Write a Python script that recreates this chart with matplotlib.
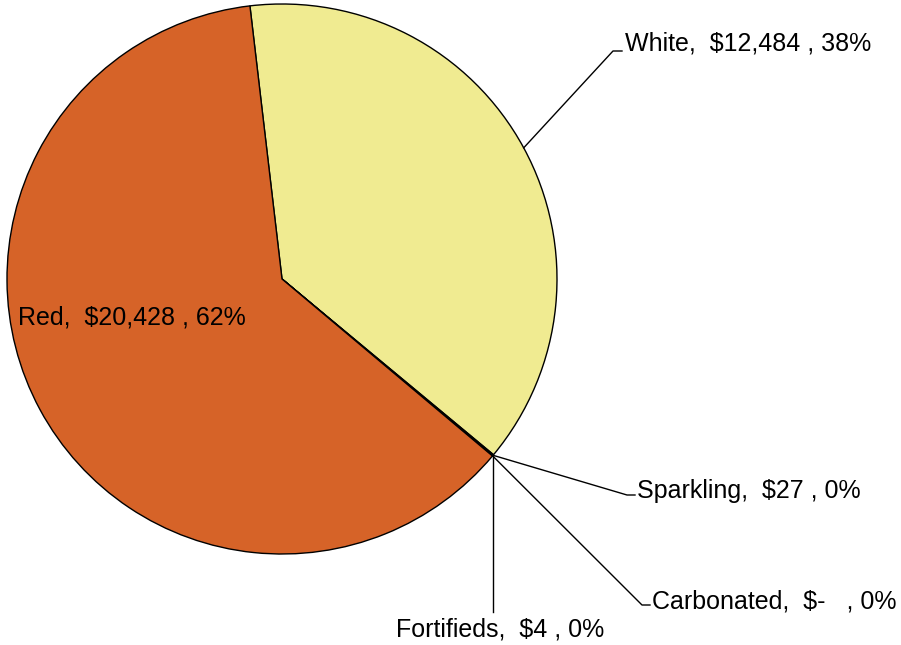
import numpy as np
import matplotlib
matplotlib.use("Agg")
import matplotlib.pyplot as plt

plt.rcParams['font.family'] = ['Liberation Sans', 'DejaVu Sans']

categories = ["White", "Sparkling", "Carbonated", "Fortifieds", "Red"]
values = [12484, 27, 0, 4, 20428]
value_labels = ["$12,484", "$27", "$-  ", "$4", "$20,428"]
pct_labels = ["38%", "0%", "0%", "0%", "62%"]
colors = ["#F0EB91", "#F0EB91", "#F0EB91", "#D66328", "#D66328"]

W, H = 901, 645
fig = plt.figure(figsize=(W / 100, H / 100), dpi=100)
ax = fig.add_axes([0, 0, 1, 1])

cx, cy, r = 282, H - 279, 275
start = 96.7
wedges, _ = ax.pie(values, colors=colors, startangle=start, counterclock=False,
                   center=(cx, cy), radius=r, frame=True,
                   wedgeprops=dict(edgecolor='black', linewidth=1.0))
ax.set_xlim(0, W)
ax.set_ylim(0, H)
ax.set_aspect('equal')
ax.axis('off')

def anchor(i):
    w = wedges[i]
    mid = np.deg2rad((w.theta1 + w.theta2) / 2)
    return cx + r * np.cos(mid), cy + r * np.sin(mid)

fs = 18
def lab(i):
    return f"{categories[i]},  {value_labels[i]} , {pct_labels[i]}"

# White
a0 = anchor(0)
ax.plot([a0[0], 613, 622], [a0[1], H - 51, H - 51], color='black', lw=1.0)
ax.text(625, H - 44, lab(0), fontsize=fs, va='center', ha='left')
# Sparkling
a1 = anchor(1)
ax.plot([a1[0], 627, 635], [a1[1], H - 495, H - 495], color='black', lw=1.0)
ax.text(637, H - 491, lab(1), fontsize=fs, va='center', ha='left')
# Carbonated
a2 = anchor(2)
ax.plot([a2[0], 642, 650], [a2[1], H - 605, H - 605], color='black', lw=1.0)
ax.text(652, H - 602, lab(2), fontsize=fs, va='center', ha='left')
# Fortifieds
a3 = anchor(3)
ax.plot([a3[0], a3[0]], [a3[1], H - 612], color='black', lw=1.0)
ax.text(500, H - 630, lab(3), fontsize=fs, va='center', ha='center')
# Red
ax.text(18, H - 318, lab(4), fontsize=fs, va='center', ha='left')

fig.savefig("out.png", dpi=100)
